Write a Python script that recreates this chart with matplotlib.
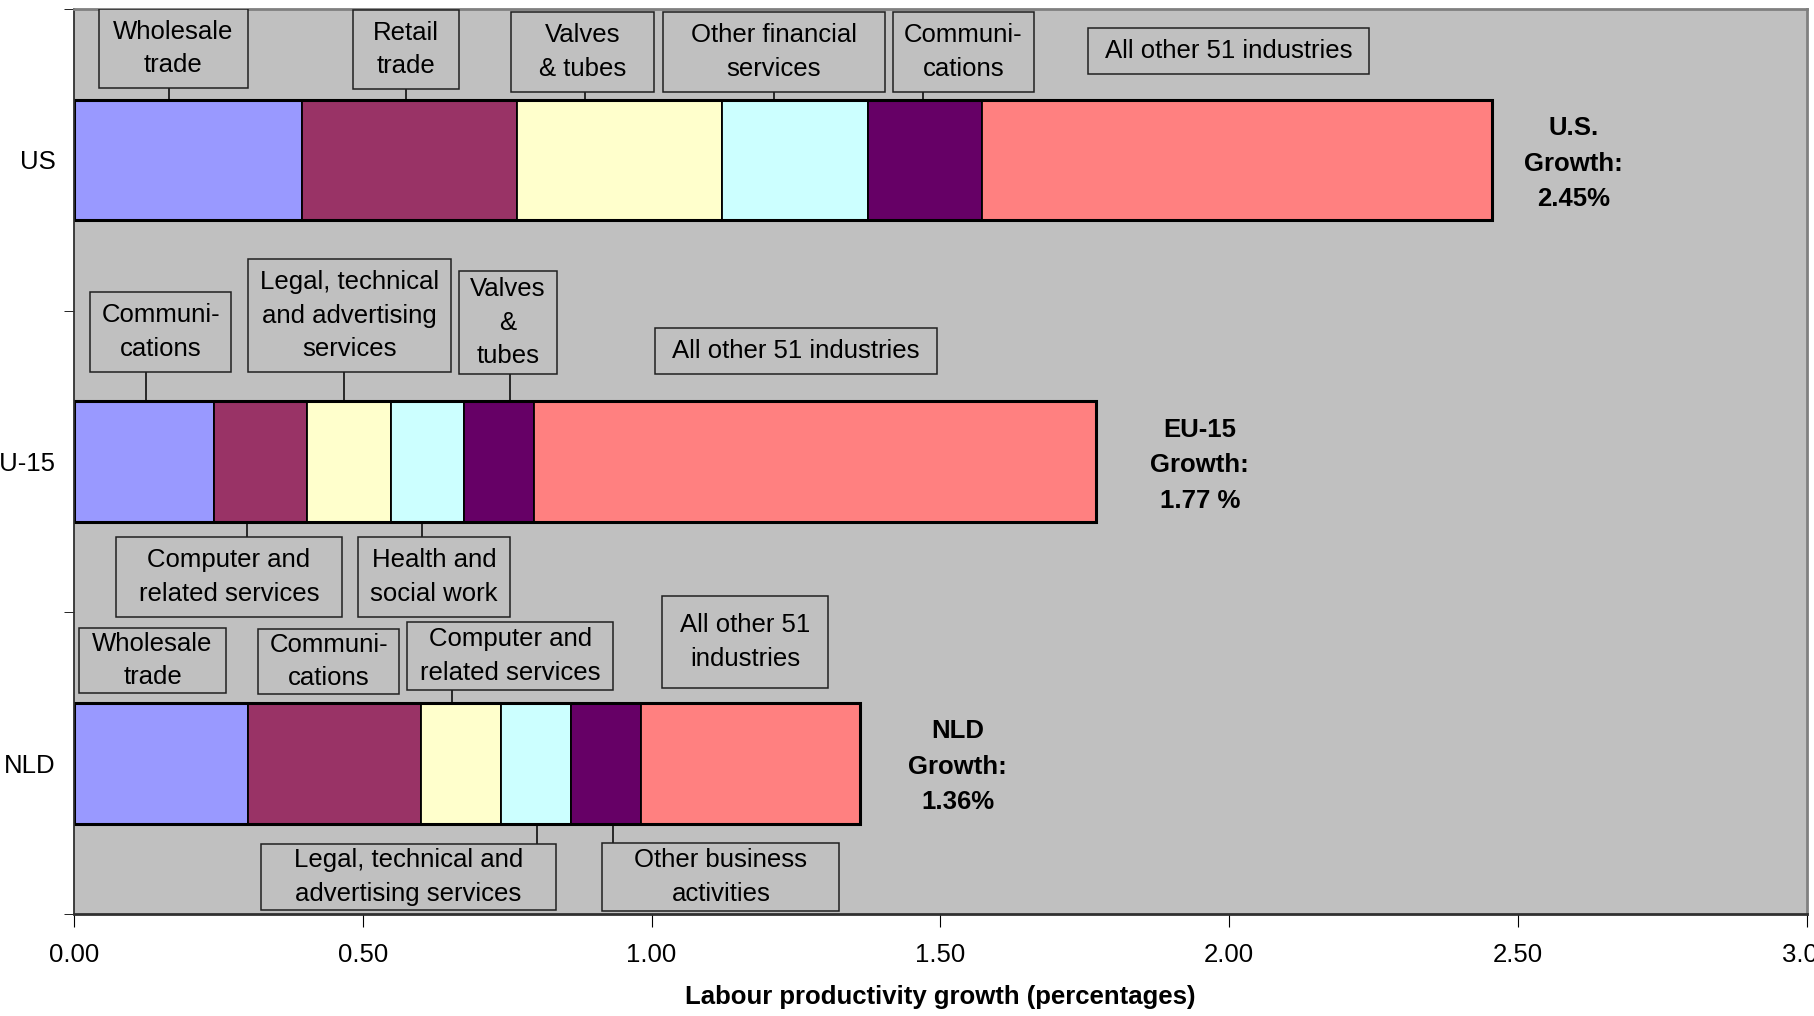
import matplotlib.pyplot as plt
from matplotlib.patches import Rectangle
import numpy as np

plt.rcParams['font.family'] = ['Liberation Sans', 'DejaVu Sans']

countries = ['NLD', 'EU-15', 'US']
# contribution of each segment, in bar order (largest industry first, rest last)
us_parts = [0.395, 0.372, 0.355, 0.252, 0.198, 0.883]
eu_parts = [0.242, 0.161, 0.146, 0.126, 0.122, 0.973]
nld_parts = [0.302, 0.299, 0.138, 0.122, 0.120, 0.379]
seg_colors = ['#9999FF', '#993366', '#FFFFCC', '#CCFFFF', '#660066', '#FF8080']

growth_labels = ['NLD\nGrowth:\n1.36%', 'EU-15\nGrowth:\n1.77 %', 'U.S.\nGrowth:\n2.45%']
growth_x = [1.530, 1.949, 2.596]

# label text, bar index, text centre (x, y), leader x (None = no line), box padding x/y in px
labels = [
    ('Wholesale\ntrade', 2, 0.172, 2.370, 0.164, 14, 11),
    ('Retail\ntrade', 2, 0.575, 2.366, 0.575, 20, 11),
    ('Valves\n& tubes', 2, 0.881, 2.358, 0.885, 28, 11),
    ('Other financial\nservices', 2, 1.212, 2.358, 1.212, 28, 11),
    ('Communi-\ncations', 2, 1.540, 2.358, 1.470, 11, 11),
    ('All other 51 industries', 2, 1.999, 2.362, None, 17, 11),
    ('Communi-\ncations', 1, 0.150, 1.430, 0.124, 11, 11),
    ('Legal, technical\nand advertising\nservices', 1, 0.477, 1.483, 0.467, 12, 11),
    ('Valves\n&\ntubes', 1, 0.751, 1.460, 0.755, 11, 6),
    ('All other 51 industries', 1, 1.250, 1.365, None, 17, 11),
    ('Computer and\nrelated services', 1, 0.268, 0.617, 0.300, 23, 11),
    ('Health and\nsocial work', 1, 0.623, 0.617, 0.603, 12, 11),
    ('Wholesale\ntrade', 0, 0.136, 0.340, None, 13, 4),
    ('Communi-\ncations', 0, 0.441, 0.337, None, 11, 4),
    ('Computer and\nrelated services', 0, 0.755, 0.356, 0.655, 13, 5),
    ('All other 51\nindustries', 0, 1.162, 0.402, None, 18, 17),
    ('Legal, technical and\nadvertising services', 0, 0.579, -0.377, 0.801, 33, 4),
    ('Other business\nactivities', 0, 1.120, -0.377, 0.933, 32, 5),
]

fig = plt.figure(figsize=(18.14, 10.16), dpi=100)
ax = fig.add_axes([0.0408, 0.1004, 0.9552, 0.8906])
ax.set_facecolor('#C0C0C0')

bar_h = 0.4
all_parts = [nld_parts, eu_parts, us_parts]
for i, parts in enumerate(all_parts):
    left = np.concatenate([[0], np.cumsum(parts)[:-1]])
    ax.barh(i, parts, left=left, height=bar_h, color=seg_colors,
            edgecolor='black', linewidth=1.3)
    ax.barh(i, sum(parts), height=bar_h, fill=False, edgecolor='black',
            linewidth=2.2)

for i, g in enumerate(growth_labels):
    ax.text(growth_x[i], i - 0.012, g, ha='center', va='center', fontsize=18.5,
            fontweight='bold', linespacing=1.6)

ax.set_xlim(0, 3)
ax.set_ylim(-0.5, 2.5)
ax.set_xticks(np.arange(0, 3.01, 0.5))
ax.set_xticklabels(['%.2f' % v for v in np.arange(0, 3.01, 0.5)])
ax.set_yticks([0, 1, 2])
ax.set_yticklabels(countries)
ax.set_yticks([-0.5, 0.5, 1.5, 2.5], minor=True)
ax.tick_params(axis='y', which='major', length=0, pad=13, labelsize=18.5)
ax.tick_params(axis='y', which='minor', length=7, color='black')
ax.tick_params(axis='x', length=9, pad=12, labelsize=18.5)
ax.set_xlabel('Labour productivity growth (percentages)', fontsize=18.5,
              fontweight='bold', labelpad=13)

for s in ['top', 'right']:
    ax.spines[s].set_color('#808080')
    ax.spines[s].set_linewidth(2)
ax.spines['left'].set_color('#303030')
ax.spines['bottom'].set_color('#303030')
ax.spines['left'].set_linewidth(1.3)
ax.spines['bottom'].set_linewidth(2)

# label boxes: measure the text, then draw box and leader line
texts = []
for text, bar, x, y, lx, padx, pady in labels:
    t = ax.text(x, y, text, ha='center', va='center', fontsize=18.5,
                linespacing=1.5, zorder=5)
    texts.append(t)

fig.canvas.draw()
renderer = fig.canvas.get_renderer()
inv = ax.transData.inverted()
for t, (text, bar, x, y, lx, padx, pady) in zip(texts, labels):
    bb = t.get_window_extent(renderer)
    (x0, y0), (x1, y1) = inv.transform([[bb.x0 - padx, bb.y0 - pady],
                                        [bb.x1 + padx, bb.y1 + pady]])
    ax.add_patch(Rectangle((x0, y0), x1 - x0, y1 - y0, fc='#C0C0C0',
                           ec='#202020', lw=1.1, zorder=4))
    if lx is not None:
        if y > bar:
            ax.plot([lx, lx], [bar + bar_h / 2, y0], color='black', lw=1.1, zorder=3)
        else:
            ax.plot([lx, lx], [bar - bar_h / 2, y1], color='black', lw=1.1, zorder=3)

fig.savefig('out.png', dpi=100)
